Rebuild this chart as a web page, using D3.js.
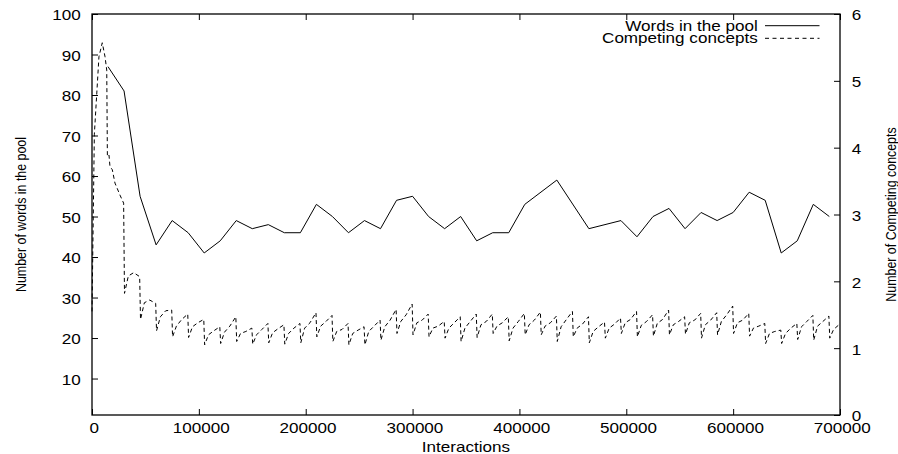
<!DOCTYPE html>
<html><head><meta charset="utf-8">
<script src="https://cdn.jsdelivr.net/npm/d3@7"></script>
<style>
html,body{margin:0;padding:0;background:#fff;}
svg text{font-family:"Liberation Sans",Arial,Helvetica,sans-serif;fill:#000;}
</style></head>
<body><svg id="c" width="898" height="454"></svg>
<script>
// ---- data ----
const xTicks = [0, 100000, 200000, 300000, 400000, 500000, 600000, 700000];
const leftTicks = [10, 20, 30, 40, 50, 60, 70, 80, 90, 100];
const rightTicks = [0, 1, 2, 3, 4, 5, 6];

const wordsX = [15000, 30000, 45000, 60000, 75000, 90000, 105000, 120000, 135000, 150000, 165000, 180000, 195000, 210000, 225000, 240000, 255000, 270000, 285000, 300000, 315000, 330000, 345000, 360000, 375000, 390000, 405000, 435000, 465000, 495000, 510000, 525000, 540000, 555000, 570000, 585000, 600000, 615000, 630000, 645000, 660000, 675000, 690000];
const wordsY = [87, 81, 55, 43, 49, 46, 41, 44, 49, 47, 48, 46, 46, 53, 50, 46, 49, 47, 54, 55, 50, 47, 50, 44, 46, 46, 53, 59, 47, 49, 45, 50, 52, 47, 51, 49, 51, 56, 54, 41, 44, 53, 50];

const conceptEarlyX = [0, 2200, 6500, 9600, 12200, 13800, 14400, 15900, 16800, 19000, 21500, 26200, 29600];
const conceptEarlyY = [1.55, 4.2, 5.36, 5.57, 5.36, 5.16, 3.87, 3.89, 3.72, 3.67, 3.47, 3.29, 3.17];

const cycleStart = [30000, 45000, 60000, 75000, 90000, 105000, 120000, 135000, 150000, 165000, 180000, 195000, 210000, 225000, 240000, 255000, 270000, 285000, 300000, 315000, 330000, 345000, 360000, 375000, 390000, 405000, 420000, 435000, 450000, 465000, 480000, 495000, 510000, 525000, 540000, 555000, 570000, 585000, 600000, 615000, 630000, 645000, 660000, 675000, 690000];
const cycleOffsets = [400, 4000, 9000, 14600];
const cycleLow   = [1.82, 1.43, 1.26, 1.17, 1.16, 1.05, 1.07, 1.10, 1.06, 1.08, 1.06, 1.08, 1.17, 1.10, 1.05, 1.05, 1.12, 1.22, 1.20, 1.17, 1.15, 1.10, 1.16, 1.22, 1.11, 1.20, 1.20, 1.10, 1.17, 1.08, 1.15, 1.22, 1.17, 1.18, 1.20, 1.21, 1.15, 1.20, 1.22, 1.18, 1.07, 1.07, 1.13, 1.12, 1.15];
const cycleRiseA = [2.08, 1.68, 1.47, 1.33, 1.32, 1.20, 1.24, 1.22, 1.20, 1.23, 1.22, 1.30, 1.33, 1.25, 1.22, 1.25, 1.32, 1.40, 1.38, 1.30, 1.30, 1.30, 1.35, 1.33, 1.30, 1.35, 1.33, 1.32, 1.30, 1.25, 1.30, 1.38, 1.34, 1.37, 1.35, 1.38, 1.35, 1.40, 1.38, 1.30, 1.22, 1.22, 1.32, 1.33, 1.28];
const cycleRiseB = [2.13, 1.72, 1.56, 1.43, 1.38, 1.26, 1.33, 1.25, 1.28, 1.29, 1.30, 1.38, 1.40, 1.28, 1.27, 1.33, 1.42, 1.50, 1.42, 1.33, 1.38, 1.40, 1.40, 1.38, 1.40, 1.42, 1.38, 1.43, 1.36, 1.32, 1.36, 1.43, 1.40, 1.43, 1.40, 1.42, 1.42, 1.50, 1.42, 1.33, 1.25, 1.30, 1.40, 1.40, 1.35];
const cyclePeak  = [2.07, 1.67, 1.57, 1.51, 1.43, 1.32, 1.47, 1.30, 1.37, 1.35, 1.37, 1.53, 1.49, 1.37, 1.32, 1.42, 1.58, 1.66, 1.51, 1.40, 1.47, 1.51, 1.51, 1.47, 1.52, 1.54, 1.48, 1.55, 1.47, 1.39, 1.45, 1.55, 1.50, 1.57, 1.47, 1.52, 1.53, 1.63, 1.52, 1.37, 1.27, 1.37, 1.49, 1.48, null];
const conceptEndX = 700000, conceptEndY = 1.37;

const legendLabels = ["Words in the pool", "Competing concepts"];

// ---- build series ----
const words = wordsX.map((x, i) => ({x, y: wordsY[i]}));
const concepts = conceptEarlyX.map((x, i) => ({x, y: conceptEarlyY[i]}));
cycleStart.forEach((s, i) => {
  const vals = [cycleLow[i], cycleRiseA[i], cycleRiseB[i], cyclePeak[i]];
  vals.forEach((v, j) => { if (v != null) concepts.push({x: s + cycleOffsets[j], y: v}); });
});
concepts.push({x: conceptEndX, y: conceptEndY});

// ---- layout ----
const L = 92, R = 840, T = 14, B = 415, SX = 1.22;
const svg = d3.select("#c");
const x = d3.scaleLinear().domain([0, 700000]).range([L, R]);
const yL = d3.scaleLinear().domain([1, 100]).range([B, T]);
const yR = d3.scaleLinear().domain([0, 6]).range([B, T]);
const fmt = d3.format("d");

function styleAxis(g) {
  g.select(".domain").remove();
  g.selectAll(".tick line").attr("stroke", "#000").attr("stroke-width", 1);
}

// bottom
const gB = svg.append("g").attr("transform", `translate(0,${B})`)
  .call(d3.axisBottom(x).tickValues(xTicks).tickSizeInner(-6).tickSizeOuter(0).tickFormat(fmt));
styleAxis(gB);
gB.selectAll(".tick text").attr("y", 18.3).attr("dy", 0).attr("x", 1.8 / SX)
  .attr("transform", `scale(${SX},1)`).attr("font-size", 14).attr("font-family", null);

// top (mirror ticks)
const gT = svg.append("g").attr("transform", `translate(0,${T})`)
  .call(d3.axisTop(x).tickValues(xTicks).tickSizeInner(-6).tickSizeOuter(0).tickFormat(""));
styleAxis(gT);

// left
const gL = svg.append("g").attr("transform", `translate(${L},0)`)
  .call(d3.axisLeft(yL).tickValues(leftTicks).tickSizeInner(-6).tickSizeOuter(0).tickFormat(fmt));
styleAxis(gL);
gL.selectAll(".tick text").attr("x", -11.3 / SX).attr("dy", "0.42em")
  .attr("transform", `scale(${SX},1)`).attr("font-size", 14).attr("font-family", null);

// right
const gR = svg.append("g").attr("transform", `translate(${R},0)`)
  .call(d3.axisRight(yR).tickValues(rightTicks).tickSizeInner(-6).tickSizeOuter(0).tickFormat(fmt));
styleAxis(gR);
gR.selectAll(".tick text").attr("x", 11.7 / SX).attr("dy", "0.42em")
  .attr("transform", `scale(${SX},1)`).attr("font-size", 14).attr("font-family", null);

// frame
svg.append("rect").attr("x", L).attr("y", T).attr("width", R - L).attr("height", B - T)
  .attr("fill", "none").attr("stroke", "#000").attr("stroke-width", 1.3);

// lines
const lineL = d3.line().x(d => x(d.x)).y(d => yL(d.y));
const lineR = d3.line().x(d => x(d.x)).y(d => yR(d.y));
svg.append("path").datum(concepts).attr("d", lineR).attr("fill", "none")
  .attr("stroke", "#000").attr("stroke-width", 1).attr("stroke-dasharray", "4,3");
svg.append("path").datum(words).attr("d", lineL).attr("fill", "none")
  .attr("stroke", "#000").attr("stroke-width", 1);

// axis titles
svg.append("text").text("Interactions").attr("text-anchor", "middle").attr("font-size", 14)
  .attr("transform", `translate(${(L + R) / 2},451.5) scale(${SX},1)`);
svg.append("text").text("Number of words in the pool").attr("text-anchor", "middle").attr("font-size", 12.4)
  .attr("transform", `translate(25.5,${(T + B) / 2}) scale(${SX},1) rotate(-90)`);
svg.append("text").text("Number of Competing concepts").attr("text-anchor", "middle").attr("font-size", 12.4)
  .attr("transform", `translate(896,${(T + B) / 2}) scale(${SX},1) rotate(-90)`);

// legend
const legY = [30.7, 43.3];
legendLabels.forEach((lab, i) => {
  svg.append("text").text(lab).attr("text-anchor", "end").attr("font-size", 14)
    .attr("transform", `translate(757.7,${legY[i]}) scale(${SX},1)`);
  svg.append("line").attr("x1", 765).attr("x2", 819.5)
    .attr("y1", legY[i] - 5).attr("y2", legY[i] - 5)
    .attr("stroke", "#000").attr("stroke-width", 1)
    .attr("stroke-dasharray", i === 1 ? "4,3.5" : null);
});
</script></body></html>
